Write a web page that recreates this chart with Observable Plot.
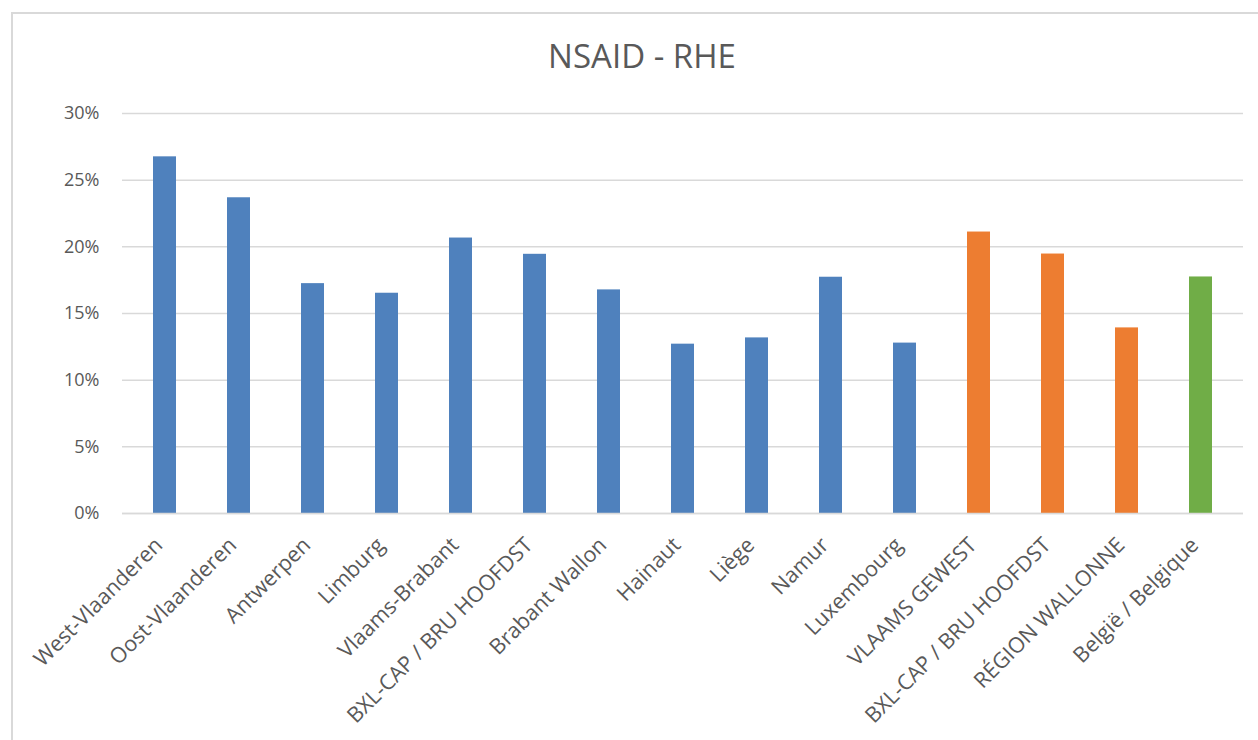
<!DOCTYPE html>
<html>
<head>
<meta charset="utf-8">
<script src="https://cdn.jsdelivr.net/npm/d3@7"></script>
<script src="https://cdn.jsdelivr.net/npm/@observablehq/plot@0.6"></script>
<style>
  html, body { margin: 0; padding: 0; background: #fff; }
  #wrap { position: relative; width: 1258px; height: 740px; overflow: hidden; font-family: "Open Sans", sans-serif; }
  #frame { position: absolute; left: 11px; top: 12px; width: 1300px; height: 800px; border: 2px solid #d9d9d9; box-sizing: border-box; }
  #title { position: absolute; left: 0; width: 1284px; top: 39px; text-align: center; font-size: 33px; color: #595959; line-height: 1; }
  #chart { position: absolute; left: 0; top: 0; }
</style>
</head>
<body>
<div id="wrap">
  <div id="frame"></div>
  <div id="title">NSAID - RHE</div>
  <div id="chart"></div>
</div>
<script>
const categories = [
  "West-Vlaanderen", "Oost-Vlaanderen", "Antwerpen", "Limburg", "Vlaams-Brabant",
  "BXL-CAP / BRU HOOFDST", "Brabant Wallon", "Hainaut", "Liège", "Namur", "Luxembourg",
  "VLAAMS GEWEST", "BXL-CAP / BRU HOOFDST", "RÉGION WALLONNE", "België / Belgique"
];
const values = [26.75, 23.68, 17.24, 16.52, 20.66, 19.44, 16.77, 12.70, 13.17, 17.72, 12.78, 21.11, 19.46, 13.92, 17.74];
const levels = ["province", "province", "province", "province", "province", "province", "province", "province", "province", "province", "province", "region", "region", "region", "country"];
const levelDomain = ["province", "region", "country"];
const levelColors = ["#4F81BD", "#ED7D31", "#70AD47"];
const yTicks = [0, 5, 10, 15, 20, 25, 30];

const data = categories.map((c, i) => ({i, label: c, value: values[i], level: levels[i]}));

const chart = Plot.plot({
  width: 1258,
  height: 740,
  marginTop: 113,
  marginBottom: 227,
  marginLeft: 122,
  marginRight: 15,
  style: {fontFamily: "'Open Sans', sans-serif", fontSize: "18px", color: "#595959", background: "transparent"},
  x: {domain: d3.range(categories.length), paddingInner: 0.687, paddingOuter: 0.3435, label: null},
  y: {domain: [0, 30], label: null},
  color: {domain: levelDomain, range: levelColors},
  marks: [
    Plot.gridY(yTicks, {stroke: "#d9d9d9", strokeOpacity: 1, strokeWidth: 1.5}),
    Plot.barY(data, {x: "i", y: "value", fill: "level"}),
    Plot.ruleY([0], {stroke: "#d9d9d9", strokeWidth: 1.5}),
    Plot.axisY(yTicks, {tickSize: 0, tickPadding: 23, tickFormat: d => d + "%", fontSize: 18, fill: "#595959"}),
    Plot.axisX({tickSize: 0, tickPadding: 28, dx: -6, tickRotate: -45, tickFormat: i => categories[i], fontSize: 21.5, fill: "#595959"})
  ]
});
document.getElementById("chart").appendChild(chart);
</script>
</body>
</html>
